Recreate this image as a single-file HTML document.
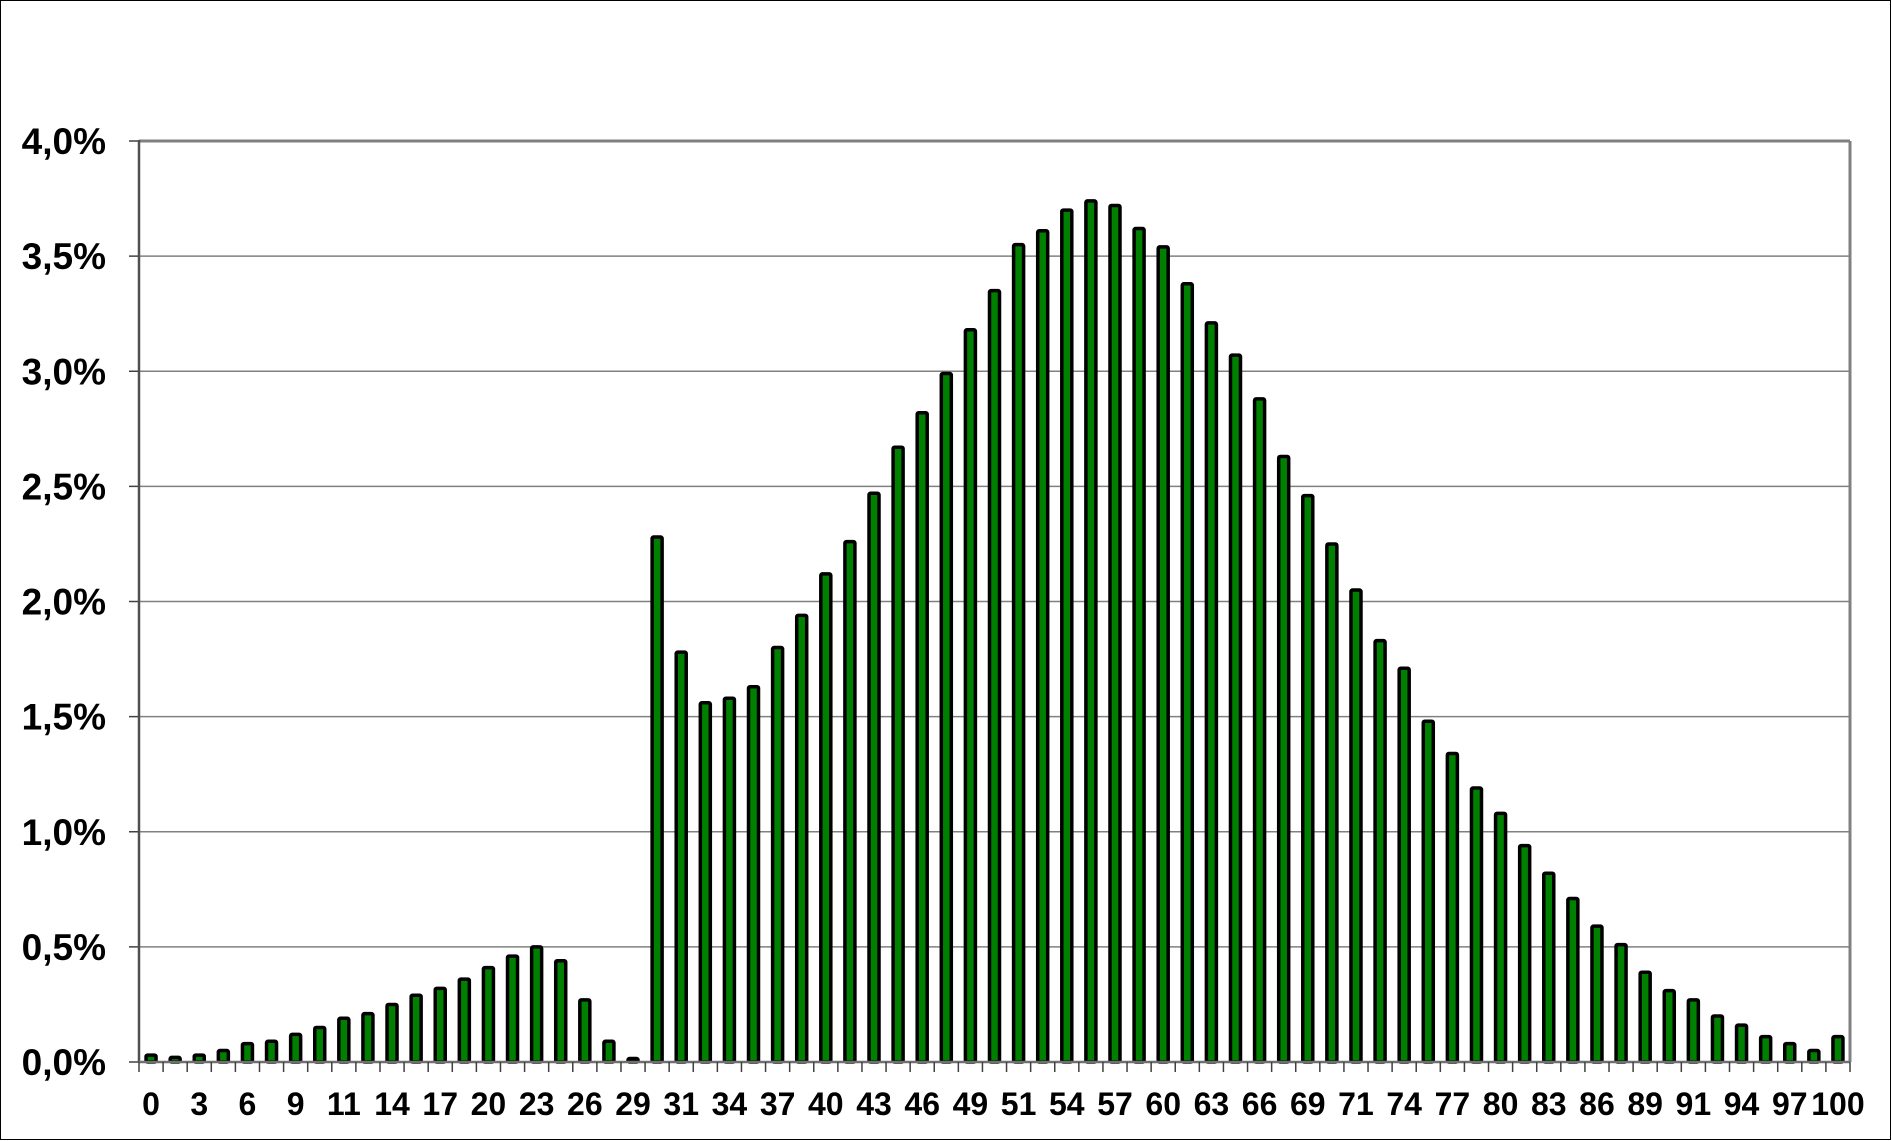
<!DOCTYPE html>
<html><head><meta charset="utf-8"><style>
html,body{margin:0;padding:0;background:#fff}
svg{display:block}
text{font-family:"Liberation Sans",Arial,sans-serif;font-weight:bold;fill:#000}
</style></head><body>
<svg id="chart" width="1892" height="1141">
<rect x="0.5" y="0.5" width="1890" height="1139" fill="#fff" stroke="#000" stroke-width="1"/>
<g id="grid"></g><g id="bars"></g><g id="axes"></g>
</svg>
<script>
const categories = [];
for (let i = 0; i <= 70; i++) categories.push(Math.round(i * 100 / 70));
const values = [0.03,0.02,0.03,0.05,0.08,0.09,0.12,0.15,0.19,0.21,0.25,0.29,0.32,0.36,0.41,0.46,0.50,0.44,0.27,0.09,0.015,
2.28,1.78,1.56,1.58,1.63,1.80,1.94,2.12,2.26,2.47,2.67,2.82,2.99,3.18,3.35,3.55,3.61,3.70,3.74,3.72,3.62,3.54,3.38,3.21,3.07,2.88,2.63,2.46,2.25,2.05,1.83,1.71,1.48,1.34,1.19,1.08,0.94,0.82,0.71,0.59,0.51,0.39,0.31,0.27,0.20,0.16,0.11,0.08,0.05,0.11];
const yTicks = [0,0.5,1,1.5,2,2.5,3,3.5,4];
const yTickLabels = ["0,0%","0,5%","1,0%","1,5%","2,0%","2,5%","3,0%","3,5%","4,0%"];

const NS = "http://www.w3.org/2000/svg";
const L = 139, R = 1850, T = 141, B = 1062;
const n = categories.length, bw = (R - L) / n;
const yS = v => B - (v / 4) * (B - T);
const xS = i => L + bw * i;
function mk(tag, attrs, parent) {
  const e = document.createElementNS(NS, tag);
  for (const k in attrs) e.setAttribute(k, attrs[k]);
  parent.appendChild(e); return e;
}
const grid = document.getElementById('grid'), bars = document.getElementById('bars'), axes = document.getElementById('axes');
yTicks.forEach((v, k) => {
  const y = yS(v);
  if (v > 0 && v < 4) {
    const g = mk('line', {x1: L, x2: R, y1: y, y2: y, stroke: '#808080', 'stroke-width': 1.5}, grid);
    
    
  }
  const t = mk('line', {x1: L - 10, x2: L, y1: y, y2: y, stroke: '#404040', 'stroke-width': 1.5}, axes);
  
  
  const lb = mk('text', {x: 106, y: y + 13, 'text-anchor': 'end', 'font-size': 37}, axes);
  lb.textContent = yTickLabels[k];
  
  
});
values.forEach((v, i) => {
  const cx = xS(i) + bw / 2, y = yS(v);
  const r = mk('rect', {x: cx - 5, y: y, width: 10, height: Math.max(B - y, 0.5), fill: '#008000', stroke: '#000', 'stroke-width': 3.5, rx: 1.5}, bars);
  
  
});
let f = mk('line', {x1: L, x2: R, y1: T, y2: T, stroke: '#808080', 'stroke-width': 3}, axes);


f = mk('line', {x1: R, x2: R, y1: T, y2: B, stroke: '#808080', 'stroke-width': 3}, axes);


f = mk('line', {x1: L, x2: L, y1: T - 1, y2: B, stroke: '#505050', 'stroke-width': 2.5}, axes);


f = mk('line', {x1: L, x2: R, y1: B, y2: B, stroke: '#707070', 'stroke-width': 2.5}, axes);


for (let i = 0; i <= n; i++) {
  const x = xS(i);
  const t = mk('line', {x1: x, x2: x, y1: B, y2: B + 10, stroke: '#404040', 'stroke-width': 1.5}, axes);
  
  
}
categories.forEach((c, i) => {
  if (i % 2) return;
  const lb = mk('text', {x: xS(i) + bw / 2, y: 1115, 'text-anchor': 'middle', 'font-size': 32}, axes);
  lb.textContent = c;
  
  
});
</script>
</body></html>
